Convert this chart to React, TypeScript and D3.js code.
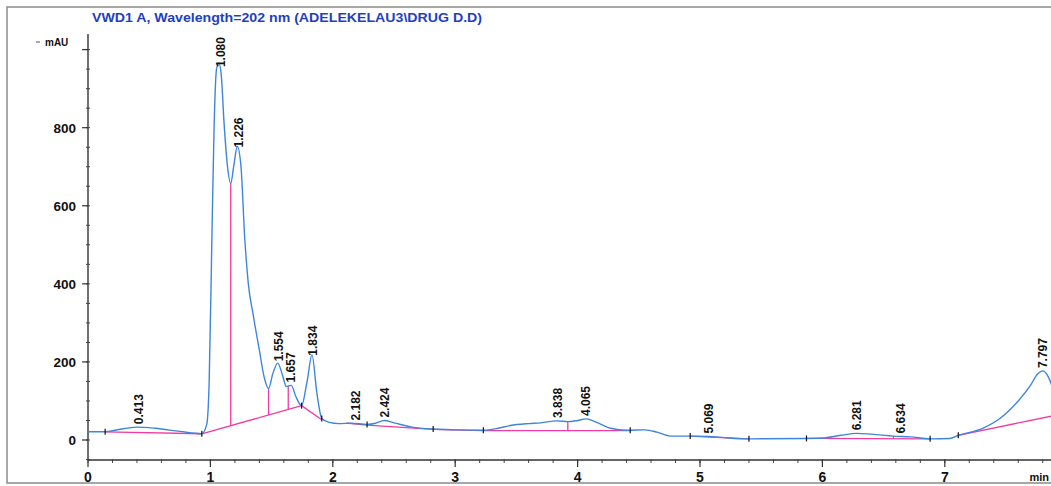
import React from 'react';
import * as d3 from 'd3';

// chromatogram trace, time (min) vs absorbance (mAU)
const traceTimes = [0, 0.14, 0.25, 0.4, 0.55, 0.75, 0.93, 0.97, 0.99, 1.01, 1.03, 1.05, 1.07, 1.09, 1.11, 1.14, 1.166, 1.19, 1.22, 1.25, 1.28, 1.31, 1.35, 1.4, 1.44, 1.475, 1.51, 1.55, 1.59, 1.62, 1.66, 1.7, 1.745, 1.79, 1.83, 1.87, 1.91, 1.97, 2.05, 2.15, 2.28, 2.35, 2.42, 2.5, 2.65, 2.82, 3.0, 3.23, 3.35, 3.45, 3.6, 3.7, 3.83, 3.92, 4.0, 4.07, 4.15, 4.27, 4.4, 4.55, 4.65, 4.76, 4.92, 5.07, 5.2, 5.4, 5.87, 6.0, 6.15, 6.28, 6.4, 6.58, 6.72, 6.88, 7.04, 7.11, 7.31, 7.45, 7.6, 7.7, 7.76, 7.8, 7.84, 7.88];
const traceValues = [21, 21, 27, 33, 30, 22, 16, 40, 150, 480, 800, 950, 965, 930, 820, 700, 657, 700, 752, 700, 520, 400, 320, 230, 160, 132, 170, 197, 165, 137, 140, 110, 88, 150, 218, 120, 55, 45, 42, 43, 40, 43, 50, 44, 33, 28, 26, 25, 30, 37, 42, 44, 49, 47, 50, 54, 46, 30, 25, 26, 20, 10, 10, 9, 6, 3, 4, 5, 12, 17, 15, 10, 8, 3, 4, 12, 30, 55, 100, 140, 170, 177, 165, 135];

// integration baselines
const baselineSegments: [number, number][][] = [
  [[0.14, 21], [0.93, 16]],
  [[0.93, 16], [1.745, 88]],
  [[1.745, 88], [1.91, 52]],
  [[2.11, 43], [2.28, 38]],
  [[2.28, 38], [2.82, 27]],
  [[2.82, 27], [3.23, 24]],
  [[3.23, 24], [4.43, 24]],
  [[4.92, 10], [5.4, 3]],
  [[5.87, 4], [6.88, 3]],
  [[7.11, 12], [7.9, 63]],
];
const dropTimes = [1.166, 1.475, 1.636, 3.92, 6.58];
const markerTimes = [0.14, 0.93, 1.745, 1.91, 2.28, 2.82, 3.23, 4.43, 4.92, 5.4, 5.87, 6.88, 7.11];

const peakLabels = ['0.413', '1.080', '1.226', '1.554', '1.657', '1.834', '2.182', '2.424', '3.838', '4.065', '5.069', '6.281', '6.634', '7.797'];

const xTicks = [0, 1, 2, 3, 4, 5, 6, 7];
const yTicks = [0, 200, 400, 600, 800];

const W = 1051;
const H = 486;

const App: React.FC = () => {
  const x = d3.scaleLinear().domain([0, 8]).range([88, 88 + 8 * 122.4]);
  const y = d3.scaleLinear().domain([0, 800]).range([440, 127.7]);

  const trace = traceTimes.map((t, i) => [t, traceValues[i]] as [number, number]);
  const valueAt = (t: number) => {
    const i = d3.bisector((d: [number, number]) => d[0]).left(trace, t);
    if (i <= 0) return trace[0][1];
    if (i >= trace.length) return trace[trace.length - 1][1];
    const a = trace[i - 1], b = trace[i];
    return a[1] + (b[1] - a[1]) * (t - a[0]) / (b[0] - a[0]);
  };
  const baseAt = (t: number) => {
    const seg = baselineSegments.find(s => t >= s[0][0] && t <= s[s.length - 1][0]);
    if (!seg) return valueAt(t);
    return seg[0][1] + (seg[1][1] - seg[0][1]) * (t - seg[0][0]) / (seg[1][0] - seg[0][0]);
  };

  const line = d3.line<[number, number]>()
    .x(d => x(d[0]))
    .y(d => y(d[1]))
    .curve(d3.curveMonotoneX);
  const straight = d3.line<[number, number]>().x(d => x(d[0])).y(d => y(d[1]));

  const minorX = d3.range(0, 7.81, 0.2);
  const minorY = d3.range(-50, 1001, 50);

  return (
    <svg width={W} height={H} style={{ position: 'absolute', left: 0, top: 0, background: '#fff' }}
      fontFamily="'Liberation Sans', Arial, sans-serif">
      <rect x={7} y={7} width={W + 20} height={476} fill="none" stroke="#8a8a8a" strokeWidth={1.5} />
      <text x={92} y={22} fontSize={13} fontWeight={700} fill="#1e3fc4"
        textLength={390} lengthAdjust="spacingAndGlyphs">
        VWD1 A, Wavelength=202 nm (ADELEKELAU3\DRUG D.D)
      </text>

      {/* y axis */}
      <line x1={88} x2={88} y1={y(1040)} y2={y(-52)} stroke="#333" strokeWidth={1.4} />
      {minorY.map(v => (
        <line key={'my' + v} x1={86} x2={90} y1={y(v)} y2={y(v)} stroke="#444" strokeWidth={1} />
      ))}
      {[...yTicks, 1000].map(v => (
        <line key={'ty' + v} x1={82} x2={88} y1={y(v)} y2={y(v)} stroke="#333" strokeWidth={1.2} />
      ))}
      {yTicks.map(v => (
        <text key={'ly' + v} x={76} y={y(v) + 5} textAnchor="end" fontSize={13.5} fontWeight={700} fill="#111">{v}</text>
      ))}
      <line x1={36} x2={40} y1={42} y2={42} stroke="#555" strokeWidth={1} />
      <text x={45} y={46} fontSize={10} fontWeight={700} fill="#111">mAU</text>

      {/* x axis */}
      <line x1={88} x2={W} y1={460} y2={460} stroke="#333" strokeWidth={1.4} />
      {minorX.map(t => (
        <line key={'mx' + t} x1={x(t)} x2={x(t)} y1={459} y2={463} stroke="#444" strokeWidth={1} />
      ))}
      {xTicks.map(t => (
        <g key={'tx' + t}>
          <line x1={x(t)} x2={x(t)} y1={460} y2={467} stroke="#333" strokeWidth={1.2} />
          <text x={x(t)} y={482} textAnchor="middle" fontSize={14} fontWeight={700} fill="#111">{t}</text>
        </g>
      ))}
      <text x={1049} y={481} textAnchor="end" fontSize={11} fontWeight={700} fill="#111">min</text>

      {/* baselines and drop lines */}
      {baselineSegments.map((s, i) => (
        <path key={'b' + i} d={straight(s) || ''} fill="none" stroke="#f23ba0" strokeWidth={1.3} />
      ))}
      {dropTimes.map(t => (
        <line key={'d' + t} x1={x(t)} x2={x(t)} y1={y(baseAt(t))} y2={y(valueAt(t))} stroke="#f23ba0" strokeWidth={1.3} />
      ))}

      {/* trace */}
      <path d={line(trace) || ''} fill="none" stroke="#3d86dc" strokeWidth={1.4} />

      {markerTimes.map(t => (
        <line key={'k' + t} x1={x(t)} x2={x(t)} y1={y(valueAt(t)) - 3} y2={y(valueAt(t)) + 3} stroke="#111" strokeWidth={1.2} />
      ))}

      {peakLabels.map(l => {
        const t = +l;
        const px = x(t);
        const py = y(valueAt(t)) - 3;
        return (
          <text key={'p' + l} transform={`translate(${px + 4.5},${py}) rotate(-90)`}
            fontSize={12} fontWeight={700} fill="#111">{l}</text>
        );
      })}
    </svg>
  );
};

export default App;
